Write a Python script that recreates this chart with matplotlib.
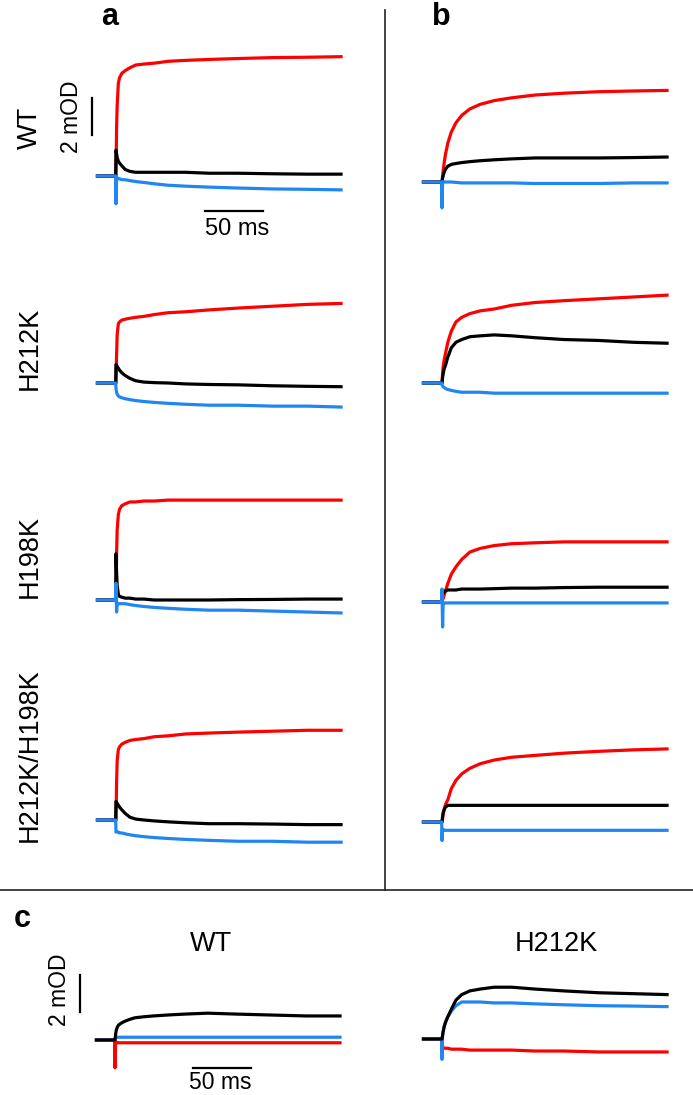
import matplotlib
matplotlib.use('Agg')
import matplotlib.pyplot as plt
from matplotlib.lines import Line2D

plt.rcParams['font.family'] = ['Liberation Sans', 'DejaVu Sans']

W, H = 693, 1095
PX_MS = 1.16     # pixels per ms
PX_MOD = 18.5    # pixels per mOD
XMIN, XMAX = -35, 200
YMIN, YMAX = -3, 8

RED = '#ff0000'
BLACK = '#000000'
BLUE = '#1f86f2'

# time after flash (ms)
t = [-16, -0.3, 0, 0.5, 1, 2, 3, 5, 8, 12, 17, 24, 33, 45, 60, 80, 105, 135, 165, 194]

# --- column a (absorbance change, mOD) ---
wt_a_red = [0, 0, 0, 2.6, 3.8, 5.0, 5.3, 5.55, 5.7, 5.85, 6.0, 6.05, 6.1, 6.2, 6.25, 6.3, 6.35, 6.4, 6.42, 6.45]
wt_a_black = [0, 0, 1.4, 1.2, 1.0, 0.8, 0.7, 0.55, 0.35, 0.25, 0.2, 0.2, 0.2, 0.2, 0.2, 0.15, 0.15, 0.12, 0.1, 0.1]
wt_a_blue = [0, 0, -1.5, -0.1, -0.1, -0.15, -0.15, -0.2, -0.2, -0.25, -0.3, -0.35, -0.42, -0.5, -0.55, -0.6, -0.65, -0.7, -0.72, -0.75]

h212k_a_red = [0, 0, 0, 1.5, 2.6, 3.2, 3.3, 3.4, 3.45, 3.5, 3.55, 3.6, 3.7, 3.8, 3.85, 3.95, 4.05, 4.15, 4.25, 4.3]
h212k_a_black = [0, 0, 1.0, 0.95, 0.9, 0.8, 0.7, 0.55, 0.4, 0.25, 0.12, 0.05, 0.02, 0, -0.05, -0.08, -0.1, -0.15, -0.18, -0.2]
h212k_a_blue = [0, 0, -0.3, -0.5, -0.6, -0.7, -0.75, -0.8, -0.85, -0.9, -0.95, -1.0, -1.05, -1.1, -1.15, -1.2, -1.2, -1.25, -1.25, -1.3]

h198k_a_red = [0, 0, 0, 2.5, 3.8, 4.6, 4.9, 5.1, 5.2, 5.3, 5.3, 5.35, 5.35, 5.4, 5.4, 5.4, 5.4, 5.4, 5.4, 5.4]
h198k_a_black = [0, 0, 2.5, 1.5, 0.8, 0.3, 0.2, 0.15, 0.1, 0.1, 0.05, 0.05, 0, 0, 0, 0, 0.02, 0.03, 0.05, 0.05]
h198k_a_blue = [0, 0, 0.9, -0.65, -0.15, -0.2, -0.2, -0.2, -0.2, -0.25, -0.3, -0.35, -0.4, -0.45, -0.5, -0.55, -0.55, -0.6, -0.65, -0.7]

dbl_a_red = [0, 0, 0, 2.0, 3.2, 3.8, 3.95, 4.1, 4.2, 4.3, 4.35, 4.4, 4.5, 4.55, 4.65, 4.7, 4.75, 4.8, 4.85, 4.85]
dbl_a_black = [0, 0, 1.0, 0.95, 0.9, 0.8, 0.7, 0.55, 0.35, 0.15, 0.05, 0, -0.05, -0.1, -0.15, -0.2, -0.2, -0.22, -0.25, -0.25]
dbl_a_blue = [0, 0, -0.65, -0.65, -0.65, -0.65, -0.7, -0.7, -0.75, -0.8, -0.85, -0.9, -0.95, -1.0, -1.05, -1.1, -1.15, -1.15, -1.2, -1.2]

# --- column b ---
wt_b_red = [0, 0, 0, 0.3, 0.6, 1.1, 1.5, 2.1, 2.7, 3.2, 3.6, 3.95, 4.2, 4.4, 4.55, 4.7, 4.8, 4.88, 4.92, 4.95]
wt_b_black = [0, 0, 0, 0.2, 0.35, 0.55, 0.7, 0.85, 0.95, 1.0, 1.05, 1.1, 1.15, 1.2, 1.25, 1.3, 1.3, 1.3, 1.32, 1.35]
wt_b_blue = [0, 0, -1.4, 0, 0, 0, 0, 0, 0, -0.02, -0.05, -0.05, -0.05, -0.05, -0.05, -0.08, -0.08, -0.08, -0.05, -0.05]

h212k_b_red = [0, 0, 0, 0.5, 0.9, 1.3, 1.6, 2.2, 2.8, 3.3, 3.55, 3.75, 3.9, 4.0, 4.2, 4.35, 4.45, 4.55, 4.65, 4.75]
h212k_b_black = [0, 0, 0, 0.3, 0.5, 0.8, 0.95, 1.4, 1.9, 2.2, 2.35, 2.5, 2.55, 2.6, 2.55, 2.45, 2.35, 2.3, 2.2, 2.15]
h212k_b_blue = [0, 0, -0.1, -0.15, -0.2, -0.25, -0.3, -0.35, -0.4, -0.45, -0.5, -0.5, -0.5, -0.55, -0.55, -0.55, -0.55, -0.55, -0.55, -0.55]

h198k_b_red = [0, 0, 0, 0.1, 0.2, 0.4, 0.6, 1.0, 1.5, 1.9, 2.3, 2.7, 2.9, 3.05, 3.15, 3.2, 3.25, 3.25, 3.25, 3.25]
h198k_b_black = [0, 0, 0.6, 0.4, 0.45, 0.55, 0.6, 0.65, 0.65, 0.65, 0.7, 0.7, 0.7, 0.72, 0.75, 0.75, 0.78, 0.8, 0.8, 0.8]
h198k_b_blue = [0, 0, 0.7, -1.35, -0.05, -0.05, -0.05, -0.05, -0.05, -0.05, -0.05, -0.05, -0.05, -0.05, -0.05, -0.05, -0.05, -0.05, -0.05, -0.05]

dbl_b_red = [0, 0, 0, 0.2, 0.4, 0.7, 0.95, 1.2, 1.8, 2.25, 2.6, 2.9, 3.15, 3.35, 3.5, 3.6, 3.72, 3.82, 3.9, 3.95]
dbl_b_black = [0, 0, 0, 0.3, 0.5, 0.7, 0.8, 0.9, 0.9, 0.9, 0.9, 0.9, 0.9, 0.9, 0.9, 0.9, 0.9, 0.9, 0.9, 0.9]
dbl_b_blue = [0, 0, -1.0, -0.4, -0.4, -0.45, -0.45, -0.45, -0.45, -0.45, -0.45, -0.45, -0.45, -0.45, -0.45, -0.45, -0.45, -0.45, -0.45, -0.45]

# --- panel c ---
wt_c_red = [0, 0, -1.5, -0.1, -0.1, -0.15, -0.15, -0.15, -0.15, -0.15, -0.15, -0.15, -0.15, -0.15, -0.15, -0.15, -0.15, -0.15, -0.15, -0.15]
wt_c_black = [0, 0, 0, 0.3, 0.5, 0.7, 0.8, 0.9, 1.0, 1.1, 1.2, 1.25, 1.3, 1.35, 1.4, 1.45, 1.4, 1.35, 1.3, 1.3]
wt_c_blue = [0, 0, 0, 0.15, 0.15, 0.15, 0.15, 0.15, 0.15, 0.15, 0.15, 0.15, 0.15, 0.15, 0.15, 0.15, 0.15, 0.15, 0.15, 0.15]

h212k_c_red = [0, 0, 0, -0.4, -0.5, -0.5, -0.5, -0.5, -0.55, -0.55, -0.55, -0.6, -0.6, -0.6, -0.6, -0.65, -0.65, -0.7, -0.7, -0.7]
h212k_c_black = [0, 0, 0, 0.2, 0.4, 0.7, 0.9, 1.2, 1.6, 2.1, 2.4, 2.6, 2.7, 2.8, 2.8, 2.7, 2.6, 2.5, 2.45, 2.4]
h212k_c_blue = [0, 0, -1.1, 0.2, 0.4, 0.7, 0.9, 1.2, 1.5, 1.8, 2.0, 2.0, 2.0, 1.95, 1.95, 1.9, 1.85, 1.8, 1.78, 1.75]

row_labels = ['WT', 'H212K', 'H198K', 'H212K/H198K']

fig = plt.figure(figsize=(W / 100, H / 100), dpi=100)


def panel(flash_px, base_px):
    left = flash_px + XMIN * PX_MS
    bottom = base_px - YMIN * PX_MOD
    ax = fig.add_axes([left / W, 1 - bottom / H,
                       (XMAX - XMIN) * PX_MS / W, (YMAX - YMIN) * PX_MOD / H])
    ax.set_xlim(XMIN, XMAX)
    ax.set_ylim(YMIN, YMAX)
    ax.axis('off')
    ax.patch.set_alpha(0)
    return ax


def traces(ax, series):
    for y, c in series:
        ax.plot(t, y, color=c, lw=2.3, solid_joinstyle='round')


a_rows = [(176, wt_a_red, wt_a_black, wt_a_blue),
          (383, h212k_a_red, h212k_a_black, h212k_a_blue),
          (600, h198k_a_red, h198k_a_black, h198k_a_blue),
          (820, dbl_a_red, dbl_a_black, dbl_a_blue)]
b_rows = [(182, wt_b_red, wt_b_black, wt_b_blue),
          (383, h212k_b_red, h212k_b_black, h212k_b_blue),
          (602, h198k_b_red, h198k_b_black, h198k_b_blue),
          (822, dbl_b_red, dbl_b_black, dbl_b_blue)]

axes_a = []
for base, r, k, b in a_rows:
    ax = panel(116, base)
    traces(ax, [(r, RED), (k, BLACK), (b, BLUE)])
    axes_a.append(ax)
for base, r, k, b in b_rows:
    ax = panel(442, base)
    traces(ax, [(r, RED), (k, BLACK), (b, BLUE)])

ax_cw = panel(115, 1040)
traces(ax_cw, [(wt_c_red, RED), (wt_c_blue, BLUE), (wt_c_black, BLACK)])
ax_ch = panel(442, 1039)
traces(ax_ch, [(h212k_c_red, RED), (h212k_c_blue, BLUE), (h212k_c_black, BLACK)])

# scale bars (2 mOD, 50 ms)
ax = axes_a[0]
ax.plot([-21, -21], [2.2, 4.2], color='black', lw=1.6, clip_on=False)
ax.plot([77, 127], [-1.9, -1.9], color='black', lw=1.6, clip_on=False)
ax_cw.plot([-30, -30], [1.5, 3.5], color='black', lw=1.6, clip_on=False)
ax_cw.plot([67, 117], [-1.5, -1.5], color='black', lw=1.6, clip_on=False)


def ftext(x, y, s, **kw):
    fig.text(x / W, 1 - y / H, s, **kw)


ftext(237, 235, '50 ms', fontsize=17, ha='center', va='baseline')
ftext(71, 117, '2 mOD', fontsize=16.5, ha='center', va='center', rotation=90)
ftext(220, 1089, '50 ms', fontsize=16.5, ha='center', va='baseline')
ftext(59, 990, '2 mOD', fontsize=16.5, ha='center', va='center', rotation=90)

ftext(110, 25, 'a', fontsize=22, fontweight='bold', ha='center', va='baseline')
ftext(441, 25, 'b', fontsize=22, fontweight='bold', ha='center', va='baseline')
ftext(22, 927, 'c', fontsize=22, fontweight='bold', ha='center', va='baseline')

for lab, yc in zip(row_labels, [128, 348, 556, 755]):
    ftext(30, yc, lab, fontsize=19.5, ha='center', va='center', rotation=90)

ftext(211, 951, 'WT', fontsize=19.5, ha='center', va='baseline')
ftext(556, 951, 'H212K', fontsize=19.5, ha='center', va='baseline')

# dividers
fig.add_artist(Line2D([385 / W, 385 / W], [1 - 10 / H, 1 - 890 / H], color='#222222', lw=1.2))
fig.add_artist(Line2D([0, 1], [1 - 890 / H, 1 - 890 / H], color='#222222', lw=1.2))

fig.savefig('out.png', dpi=100)
